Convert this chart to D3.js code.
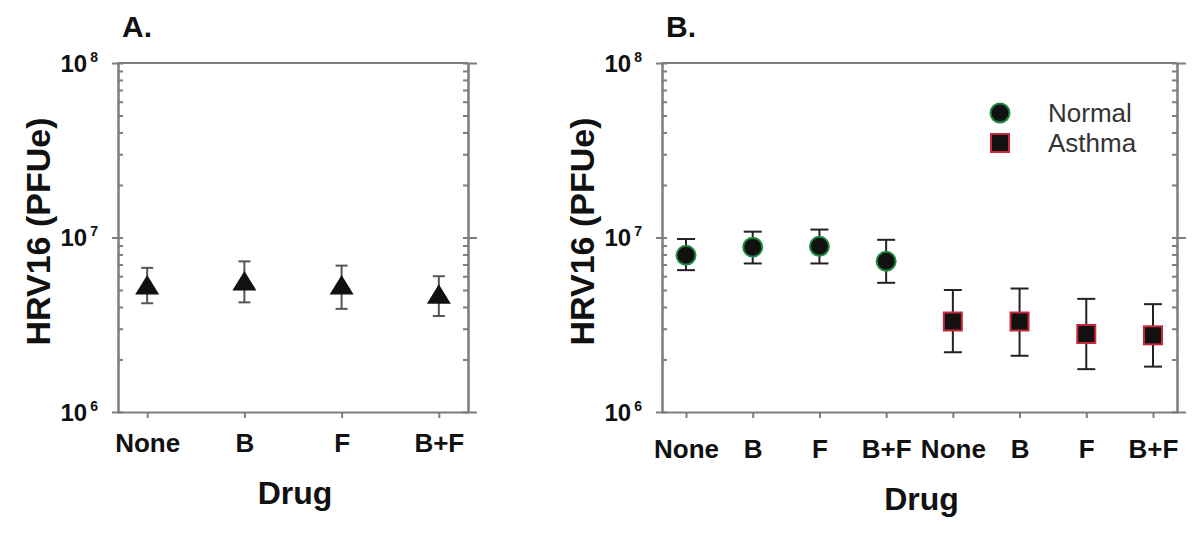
<!DOCTYPE html>
<html>
<head>
<meta charset="utf-8">
<script src="https://cdn.jsdelivr.net/npm/d3@7"></script>
<style>
  body { margin: 0; background: #fff; }
  svg { display: block; font-family: "Liberation Sans", Arial, sans-serif; }
</style>
</head>
<body>
<div id="chart"></div>
<script>
// datos
const drugsA = ["None", "B", "F", "B+F"]
const meanA = [5.3e6, 5.6e6, 5.3e6, 4.7e6]
const upperA = [6.7e6, 7.3e6, 6.9e6, 6.0e6]
const lowerA = [4.2e6, 4.25e6, 3.9e6, 3.55e6]

const drugsB = ["None", "B", "F", "B+F", "None", "B", "F", "B+F"]
const groupB = ["Normal", "Normal", "Normal", "Normal", "Asthma", "Asthma", "Asthma", "Asthma"]
const meanB = [7.9e6, 8.8e6, 8.9e6, 7.3e6, 3.3e6, 3.3e6, 2.8e6, 2.75e6]
const upperB = [9.8e6, 1.08e7, 1.11e7, 9.7e6, 5.0e6, 5.1e6, 4.45e6, 4.15e6]
const lowerB = [6.5e6, 7.1e6, 7.1e6, 5.5e6, 2.2e6, 2.1e6, 1.76e6, 1.82e6]

const legendNames = ["Normal", "Asthma"]
const yMajor = [1e6, 1e7, 1e8]
const yMajorExp = [6, 7, 8]

const width = 1200
const height = 534
const axisColor = "#7d7d7d"
const textColor = "#111"

const svg = d3.select("#chart")
  .append("svg")
  .attr("width", width)
  .attr("height", height)

function drawPanel(p) {
  const g = svg.append("g").attr("class", "panel")
  const n = p.drugs.length

  const x = d3.scalePoint()
    .domain(d3.range(n))
    .range([p.left, p.right])
    .padding(p.pad)

  const y = d3.scaleLog()
    .domain([1e6, 1e8])
    .range([p.bottom, p.top])

  // marco superior
  g.append("line")
    .attr("x1", p.left).attr("x2", p.right)
    .attr("y1", y(1e8)).attr("y2", y(1e8))
    .attr("stroke", axisColor).attr("stroke-width", 2)

  // ticks menores hacia dentro
  g.append("g")
    .attr("transform", `translate(${p.left},0)`)
    .call(d3.axisLeft(y).tickValues(y.ticks()).tickSize(-5).tickSizeOuter(0).tickFormat(""))
  g.append("g")
    .attr("transform", `translate(${p.right},0)`)
    .call(d3.axisRight(y).tickValues(y.ticks()).tickSize(-5).tickSizeOuter(0).tickFormat(""))
  // ticks mayores hacia fuera
  g.append("g")
    .attr("transform", `translate(${p.left},0)`)
    .call(d3.axisLeft(y).tickValues(yMajor).tickSize(6).tickSizeOuter(0).tickFormat(""))
  g.append("g")
    .attr("transform", `translate(${p.right},0)`)
    .call(d3.axisRight(y).tickValues(yMajor).tickSize(9).tickSizeOuter(0).tickFormat(""))

  const xAxis = g.append("g")
    .attr("transform", `translate(0,${p.bottom})`)
    .call(d3.axisBottom(x).tickSize(6).tickSizeOuter(0).tickFormat(i => p.drugs[i]))
  xAxis.selectAll("text")
    .attr("y", p.xLabelY).attr("dy", 0)
    .style("font-size", "26px").style("font-weight", "bold").attr("fill", textColor)

  g.selectAll(".domain, .tick line")
    .attr("stroke", axisColor).attr("stroke-width", 2)

  // etiquetas 10^n
  const yl = g.selectAll(".ylab").data(yMajor).enter()
    .append("text")
    .attr("class", "ylab")
    .attr("x", p.left - 20)
    .attr("y", d => y(d) + 8.5)
    .attr("text-anchor", "end")
    .style("font-size", "24px")
    .style("font-weight", "bold")
    .attr("fill", textColor)
    .text("10")
  yl.append("tspan").style("font-size", "14px").attr("dx", 3).attr("dy", -10)
    .text((d, i) => yMajorExp[i])

  // titulos
  g.append("text")
    .attr("x", p.left + 4).attr("y", 37)
    .style("font-size", "30px").style("font-weight", "bold").attr("fill", textColor)
    .text(p.title)

  g.append("text")
    .attr("transform", `translate(${p.left - 68},${(p.top + p.bottom) / 2 - 6}) rotate(-90)`)
    .attr("text-anchor", "middle")
    .style("font-size", "34px").style("font-weight", "bold").attr("fill", textColor)
    .text("HRV16 (PFUe)")

  g.append("text")
    .attr("x", (p.left + p.right) / 2 + 2).attr("y", p.drugY)
    .attr("text-anchor", "middle")
    .style("font-size", "32px").style("font-weight", "bold").attr("fill", textColor)
    .text("Drug")

  // barras de error
  const idx = d3.range(n)
  const err = g.append("g").attr("stroke", p.errColor).attr("stroke-width", 2)
  err.selectAll(".stem").data(idx).enter().append("line")
    .attr("x1", i => x(i)).attr("x2", i => x(i))
    .attr("y1", i => y(p.upper[i])).attr("y2", i => y(p.lower[i]))
  err.selectAll(".capU").data(idx).enter().append("line")
    .attr("x1", i => x(i) - p.cap / 2).attr("x2", i => x(i) + p.cap / 2)
    .attr("y1", i => y(p.upper[i])).attr("y2", i => y(p.upper[i]))
  err.selectAll(".capL").data(idx).enter().append("line")
    .attr("x1", i => x(i) - p.cap / 2).attr("x2", i => x(i) + p.cap / 2)
    .attr("y1", i => y(p.lower[i])).attr("y2", i => y(p.lower[i]))

  g.selectAll(".marker").data(idx).enter()
    .append("g")
    .attr("transform", i => `translate(${x(i)},${y(p.mean[i])})`)
    .each(function (i) { p.marker(d3.select(this), i) })
}

function triangle(sel) {
  sel.append("path").attr("d", "M0,-10.5L12,9L-12,9Z").attr("fill", "#111")
}
function groupMarker(sel, group) {
  if (group === "Normal") {
    sel.append("circle").attr("r", 9.5)
      .attr("fill", "#111").attr("stroke", "#1f8a43").attr("stroke-width", 2)
  } else {
    sel.append("rect").attr("x", -9).attr("y", -9).attr("width", 18).attr("height", 18)
      .attr("fill", "#111").attr("stroke", "#c8283c").attr("stroke-width", 2)
  }
}

drawPanel({
  title: "A.", drugs: drugsA, mean: meanA, upper: upperA, lower: lowerA,
  left: 118, right: 468, top: 63, bottom: 412, pad: 0.3,
  xLabelY: 40, drugY: 504, cap: 12, errColor: "#555",
  marker: sel => triangle(sel)
})

drawPanel({
  title: "B.", drugs: drugsB, mean: meanB, upper: upperB, lower: lowerB,
  left: 662, right: 1177, top: 63, bottom: 412, pad: 0.36,
  xLabelY: 46, drugY: 510, cap: 18, errColor: "#222",
  marker: (sel, i) => groupMarker(sel, groupB[i])
})

// leyenda
const legend = svg.append("g").attr("transform", "translate(1000,113)")
legendNames.forEach((name, i) => {
  const row = legend.append("g").attr("transform", `translate(0,${i * 30})`)
  groupMarker(row, name)
  row.append("text")
    .attr("x", 48).attr("y", 9)
    .style("font-size", "26px").attr("fill", "#333")
    .text(name)
})
</script>
</body>
</html>
